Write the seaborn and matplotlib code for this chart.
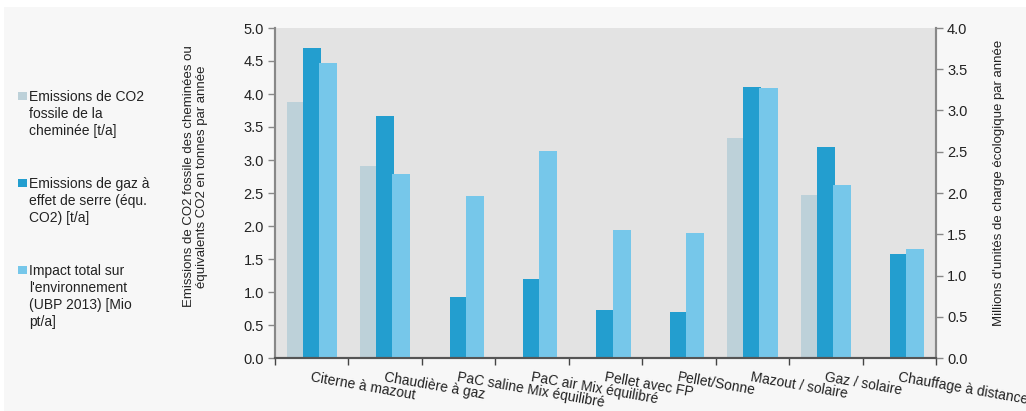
import matplotlib
matplotlib.use("Agg")
import matplotlib.pyplot as plt
from matplotlib.patches import Rectangle
import pandas as pd
import seaborn as sns

categories = [
    "Citerne à mazout",
    "Chaudière à gaz",
    "PaC saline Mix équilibré",
    "PaC air Mix équilibré",
    "Pellet avec FP",
    "Pellet/Sonne",
    "Mazout / solaire",
    "Gaz / solaire",
    "Chauffage à distance",
]
series_names = [
    "Emissions de CO2\nfossile de la\ncheminée [t/a]",
    "Emissions de gaz à\neffet de serre (équ.\nCO2) [t/a]",
    "Impact total sur\nl'environnement\n(UBP 2013) [Mio\npt/a]",
]
co2_fossile = [3.88, 2.91, 0.0, 0.0, 0.0, 0.0, 3.33, 2.47, 0.0]
gaz_serre = [4.69, 3.67, 0.92, 1.19, 0.72, 0.69, 4.11, 3.20, 1.58]
ubp_mio = [3.57, 2.23, 1.96, 2.51, 1.55, 1.52, 3.27, 2.10, 1.32]

left_ticks = [0.0, 0.5, 1.0, 1.5, 2.0, 2.5, 3.0, 3.5, 4.0, 4.5, 5.0]
right_ticks = [0.0, 0.5, 1.0, 1.5, 2.0, 2.5, 3.0, 3.5, 4.0]

colors = ["#bdd1d9", "#239ecf", "#76c7ea"]
palette = dict(zip(series_names, colors))

plt.rcParams["font.family"] = ["Liberation Sans", "DejaVu Sans"]

fig = plt.figure(figsize=(10.26, 4.11), dpi=100, facecolor="#f7f7f7")
# white margins at top and left of the panel
fig.patches.append(Rectangle((0, 1 - 7 / 411), 1, 7 / 411, transform=fig.transFigure,
                             facecolor="white", edgecolor="none", zorder=0))
fig.patches.append(Rectangle((0, 0), 4 / 1026, 1, transform=fig.transFigure,
                             facecolor="white", edgecolor="none", zorder=0))

ax = fig.add_axes([275 / 1026, 1 - 358 / 411, (936 - 275) / 1026, 330 / 411])
ax.set_facecolor("#e3e3e3")

n = len(categories)
left_df = pd.DataFrame({
    "categorie": categories * 3,
    "serie": [series_names[0]] * n + [series_names[1]] * n + [series_names[2]] * n,
    "valeur": co2_fossile + gaz_serre + [0.0] * n,
})
right_df = pd.DataFrame({
    "categorie": categories * 3,
    "serie": [series_names[0]] * n + [series_names[1]] * n + [series_names[2]] * n,
    "valeur": [0.0] * n + [0.0] * n + ubp_mio,
})

sns.barplot(data=left_df, x="categorie", y="valeur", hue="serie", order=categories,
            hue_order=series_names, palette=palette, width=0.66, errorbar=None,
            linewidth=0, saturation=1, legend=False, ax=ax)

ax2 = ax.twinx()
sns.barplot(data=right_df, x="categorie", y="valeur", hue="serie", order=categories,
            hue_order=series_names, palette=palette, width=0.66, errorbar=None,
            linewidth=0, saturation=1, legend=False, ax=ax2)

# widen bars slightly so neighbours overlap
for a in (ax, ax2):
    for p in a.patches:
        w = p.get_width()
        cx = p.get_x() + w / 2
        nw = w * 1.12
        p.set_x(cx - nw / 2)
        p.set_width(nw)

# keep grey bars beneath dark bars
for p in ax.patches:
    fc = p.get_facecolor()
    if abs(fc[0] - 0xbd / 255) < 0.02:
        p.set_zorder(1)
    else:
        p.set_zorder(2)

ax.set_ylim(0, 5)
ax2.set_ylim(0, 4)
ax.set_xlim(-0.5, n - 0.5)
ax.set_yticks(left_ticks)
ax.set_yticklabels([f"{t:.1f}" for t in left_ticks])
ax2.set_yticks(right_ticks)
ax2.set_yticklabels([f"{t:.1f}" for t in right_ticks])

ax.set_xticks(range(n))
ax.set_xticklabels(categories, rotation=-10, ha="left", va="top",
                   rotation_mode="anchor", fontsize=10, color="#222222")
ax.set_xticks([i - 0.5 for i in range(n + 1)], minor=True)
ax.tick_params(axis="x", which="major", length=0, pad=9)
ax.tick_params(axis="x", which="minor", length=5, width=1, color="#444444", direction="out")
ax.tick_params(axis="y", length=5, width=1, color="#888888", labelsize=10.5,
               labelcolor="#222222", pad=3)
ax2.tick_params(axis="y", length=5, width=1, color="#888888", labelsize=10.5,
                labelcolor="#222222", pad=3)
ax.set_xlabel("")
ax2.set_xlabel("")

for a in (ax, ax2):
    a.spines["top"].set_visible(False)
    a.spines["left"].set_color("#888888")
    a.spines["right"].set_color("#888888")
    a.spines["left"].set_linewidth(1.5)
    a.spines["right"].set_linewidth(1.5)
    a.spines["bottom"].set_color("#555555")
    a.spines["bottom"].set_linewidth(1.5)

ax.set_ylabel("Emissions de CO2 fossile des cheminées ou\néquivalents CO2 en tonnes par année",
              fontsize=9.5, color="#222222", linespacing=1.05)
ax.yaxis.set_label_coords(-0.102, 0.55)
ax2.set_ylabel("Millions d'unités de charge écologique par année", fontsize=9.5,
               color="#222222")
ax2.yaxis.set_label_coords(1.086, 0.53)

# series key on the left
key_tops = [98, 185, 272]
for name, col, yc in zip(series_names, colors, key_tops):
    fig.patches.append(Rectangle((18 / 1026, 1 - (yc + 2) / 411), 9 / 1026, 8 / 411,
                                 transform=fig.transFigure, facecolor=col,
                                 edgecolor="none", zorder=3))
    fig.text(29 / 1026, 1 - (yc - 8) / 411, name, fontsize=10, color="#222222",
             va="top", ha="left", linespacing=1.27)

fig.savefig("out.png", dpi=100, facecolor=fig.get_facecolor())
